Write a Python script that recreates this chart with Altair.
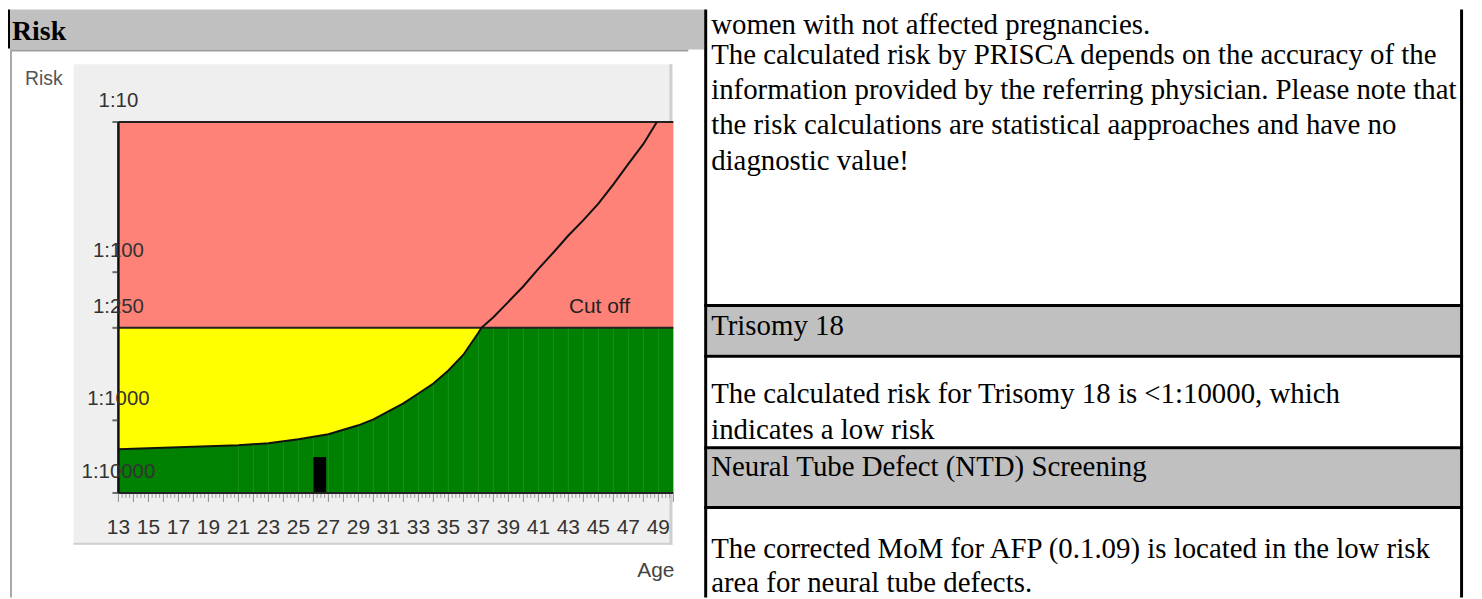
import altair as alt
import pandas as pd
import numpy as np

# ---------------- data ----------------
x_domain = [13, 50]
curve_age = [13, 15, 17, 19, 21, 23, 25, 27, 29, 30, 31, 32, 33, 34, 35, 36, 37, 37.2,
             38, 39, 40, 41, 42, 43, 44, 45, 46, 47, 48, 48.9]
curve_risk = [2500, 2420, 2345, 2270, 2200, 2065, 1820, 1555, 1170, 986, 875, 776, 669, 576,
              474, 374, 269, 250, 210, 163, 126, 95, 74, 57, 45, 35, 26, 19, 14, 10]
cutoff_risk = 250
zone_name = ["high", "low"]
zone_top = [10, 250]
zone_bottom = [250, 10000]
zone_color = ["#ff8278", "#008000"]
patient_age = [26.0, 26.85]
patient_risk = 3200
y_tick_risk = [10, 100, 250, 1000, 10000]
y_tick_label = ["1:10", "1:100", "1:250", "1:1000", "1:10000"]
x_label_ages = list(range(13, 50, 2))
x_minor_ages = list(np.arange(13, 50.001, 0.25))
grid_ages = list(range(21, 50))

top_text = ["women with not affected pregnancies.",
            "The calculated risk by PRISCA depends on the accuracy of the",
            "information provided by the referring physician. Please note that",
            "the risk calculations are statistical aapproaches and have no",
            "diagnostic value!"]
t18_title = "Trisomy 18"
t18_text = ["The calculated risk for Trisomy 18 is <1:10000, which", "indicates a low risk"]
ntd_title = "Neural Tube Defect (NTD) Screening"
ntd_text = ["The corrected MoM for AFP (0.1.09) is located in the low risk",
            "area for neural tube defects."]

# ---------------- scales ----------------
LOG = "log(datum.r)/LN10"
LOG2 = "log(datum.r2)/LN10"
X = alt.Scale(domain=x_domain, range=[111, 669], nice=False, zero=False)
Y = alt.Scale(domain=[1, 2, 2.39794, 3, 4], range=[113, 264, 320, 413, 486], nice=False, zero=False)

one = pd.DataFrame({"k": [0]})
SANS = "Liberation Sans"
SERIF = "Liberation Serif"
FS = 29


def box(x, x2, y, y2, color):
    return alt.Chart(one).mark_rect(color=color).encode(
        x=alt.value(x), x2=alt.value(x2), y=alt.value(y), y2=alt.value(y2))


def label(s, x, y, size, font, color="#000", weight="normal", align="left", baseline="alphabetic"):
    return alt.Chart(pd.DataFrame({"t": [s]})).mark_text(
        align=align, baseline=baseline, font=font, fontSize=size, fontWeight=weight, color=color
    ).encode(x=alt.value(x), y=alt.value(y), text="t:N")


layers = []
# left document frame
layers += [
    box(2, 700, 0, 40, "#c0c0c0"),
    box(0, 2, 0, 39, "#000000"),
    box(2, 684, 40, 42, "#9e9e9e"),
    box(2, 4, 40, 591, "#a8a8a8"),
    box(66, 668, 55, 538, "#efefef"),
    box(665, 668, 55, 538, "#cfcfcf"),
    box(66, 668, 536, 538, "#cfcfcf"),
    label("Risk", 4, 31, 28, SERIF, weight="bold"),
    label("Risk", 17, 76, 19.5, SANS, color="#555555"),
    label("Age", 670, 570, 21, SANS, color="#444444", align="right"),
]

# risk zones
zones = pd.DataFrame({"zone": zone_name, "r": zone_top, "r2": zone_bottom,
                      "a0": [x_domain[0]] * 2, "a1": [x_domain[1]] * 2})
layers.append(
    alt.Chart(zones).transform_calculate(ly=LOG, ly2=LOG2).mark_rect().encode(
        x=alt.X("a0:Q", scale=X, axis=None), x2="a1:Q",
        y=alt.Y("ly:Q", scale=Y, axis=None), y2="ly2:Q",
        color=alt.Color("zone:N", scale=alt.Scale(domain=zone_name, range=zone_color), legend=None))
)

# faint grid in low-risk zone
grid = pd.DataFrame({"age": grid_ages, "r": [cutoff_risk] * len(grid_ages), "r2": [10000] * len(grid_ages)})
layers.append(
    alt.Chart(grid).transform_calculate(ly=LOG, ly2=LOG2).mark_rule(
        color="#3aa03a", strokeWidth=1, opacity=0.45).encode(
        x=alt.X("age:Q", scale=X, axis=None), y=alt.Y("ly:Q", scale=Y, axis=None), y2="ly2:Q")
)

# yellow area between cutoff and age curve
curve = pd.DataFrame({"age": curve_age, "r2": curve_risk})
area_df = curve[curve["age"] <= 37.2].assign(r=cutoff_risk)
layers.append(
    alt.Chart(area_df).transform_calculate(ly=LOG, ly2=LOG2).mark_area(color="#ffff00").encode(
        x=alt.X("age:Q", scale=X, axis=None), y=alt.Y("ly:Q", scale=Y, axis=None), y2="ly2:Q")
)

# patient bar
pat = pd.DataFrame({"a0": [patient_age[0]], "a1": [patient_age[1]], "r": [patient_risk], "r2": [10000]})
layers.append(
    alt.Chart(pat).transform_calculate(ly=LOG, ly2=LOG2).mark_rect(color="#000000").encode(
        x=alt.X("a0:Q", scale=X, axis=None), x2="a1:Q",
        y=alt.Y("ly:Q", scale=Y, axis=None), y2="ly2:Q")
)

# frame lines & cutoff
hlines = pd.DataFrame({"a0": [x_domain[0]] * 3, "a1": [x_domain[1]] * 3, "r": [10, cutoff_risk, 10000]})
layers.append(
    alt.Chart(hlines).transform_calculate(ly=LOG).mark_rule(color="#222222", strokeWidth=2).encode(
        x=alt.X("a0:Q", scale=X, axis=None), x2="a1:Q", y=alt.Y("ly:Q", scale=Y, axis=None))
)
vline = pd.DataFrame({"age": [x_domain[0]], "r": [10], "r2": [10000]})
layers.append(
    alt.Chart(vline).transform_calculate(ly=LOG, ly2=LOG2).mark_rule(color="#111111", strokeWidth=2.5).encode(
        x=alt.X("age:Q", scale=X, axis=None), y=alt.Y("ly:Q", scale=Y, axis=None), y2="ly2:Q")
)

# age-risk curve
layers.append(
    alt.Chart(curve.rename(columns={"r2": "r"})).transform_calculate(ly=LOG).mark_line(
        color="#111111", strokeWidth=2).encode(
        x=alt.X("age:Q", scale=X, axis=None), y=alt.Y("ly:Q", scale=Y, axis=None))
)

# x ticks
minor = pd.DataFrame({"age": x_minor_ages})
minor["major"] = (minor["age"] % 1 == 0)
layers.append(
    alt.Chart(minor[~minor["major"]]).mark_rule(color="#9a9a9a", strokeWidth=1).encode(
        x=alt.X("age:Q", scale=X, axis=None), y=alt.value(487), y2=alt.value(491))
)
layers.append(
    alt.Chart(minor[minor["major"]]).mark_rule(color="#8a8a8a", strokeWidth=1).encode(
        x=alt.X("age:Q", scale=X, axis=None), y=alt.value(487), y2=alt.value(495))
)
layers.append(
    alt.Chart(pd.DataFrame({"age": x_label_ages})).mark_text(
        font=SANS, fontSize=21, color="#333333", baseline="alphabetic").encode(
        x=alt.X("age:Q", scale=X, axis=None), y=alt.value(527), text="age:Q")
)

# y labels and ticks
ylab = pd.DataFrame({"r": y_tick_risk, "lab": y_tick_label, "a": [x_domain[0]] * 5})
layers.append(
    alt.Chart(ylab).transform_calculate(ly=LOG).mark_text(
        font=SANS, fontSize=20.5, color="#333333", baseline="middle", dy=-21).encode(
        x=alt.X("a:Q", scale=X, axis=None), y=alt.Y("ly:Q", scale=Y, axis=None), text="lab:N")
)
layers.append(
    alt.Chart(ylab).transform_calculate(ly=LOG).mark_tick(
        color="#333333", orient="horizontal", size=6, thickness=2, xOffset=-3).encode(
        x=alt.X("a:Q", scale=X, axis=None), y=alt.Y("ly:Q", scale=Y, axis=None))
)
layers.append(label("Cut off", 564, 305, 21, SANS, color="#222222"))

# right panel
layers += [
    box(703, 1460, 299, 347, "#c0c0c0"),
    box(703, 1460, 442, 499, "#c0c0c0"),
    box(700, 1463, 296, 299, "#000000"),
    box(700, 1463, 347, 350, "#000000"),
    box(700, 1463, 439, 442, "#000000"),
    box(700, 1463, 499, 502, "#000000"),
    box(700, 703, 0, 591, "#000000"),
    box(1460, 1463, 0, 591, "#000000"),
]
top_base = [25, 55, 90, 125, 161]
for s, yb in zip(top_text, top_base):
    layers.append(label(s, 707, yb, FS, SERIF))
layers.append(label(t18_title, 707, 327, FS, SERIF))
layers.append(label(t18_text[0], 707, 396, FS, SERIF))
layers.append(label(t18_text[1], 707, 432, FS, SERIF))
layers.append(label(ntd_title, 707, 469, FS, SERIF))
layers.append(label(ntd_text[0], 707, 551, FS, SERIF))
layers.append(label(ntd_text[1], 707, 586, FS, SERIF))

chart = alt.layer(*layers).properties(
    width=1474, height=591, autosize="none", padding=0
).configure_view(stroke=None)

chart.save("out.html", embed_options={"renderer": "svg", "actions": False})
